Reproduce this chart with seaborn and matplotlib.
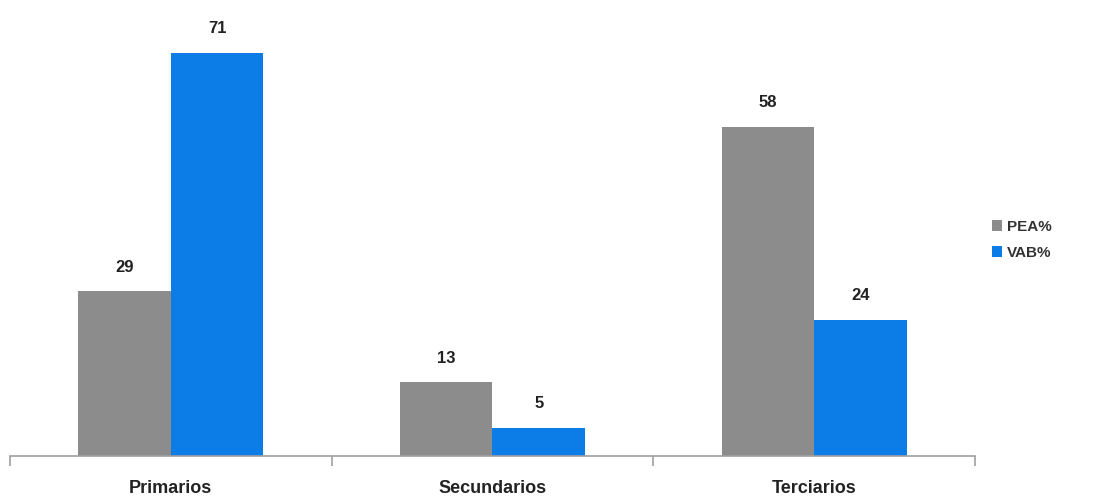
import matplotlib
matplotlib.use("Agg")
import matplotlib.pyplot as plt
import seaborn as sns
import pandas as pd

categories = ["Primarios", "Secundarios", "Terciarios"]
pea = [29, 13, 58]
vab = [71, 5, 24]
series = ["PEA%", "VAB%"]
colors = ["#8c8c8c", "#0c7ce6"]

df = pd.DataFrame({
    "cat": categories * 2,
    "serie": [series[0]] * 3 + [series[1]] * 3,
    "val": pea + vab,
})

sns.set_theme(style="white")
plt.rcParams["font.family"] = ["Liberation Sans", "DejaVu Sans"]

fig = plt.figure(figsize=(10.98, 4.98), dpi=100)
ax = fig.add_axes([10 / 1098, 42 / 498, 965 / 1098, 456 / 498])
sns.barplot(data=df, x="cat", y="val", hue="serie", palette=colors,
            width=0.575, saturation=1, ax=ax, legend=True, linewidth=0)
ax.set_ylim(0, 80.3)
ax.set_xlim(-0.5, 2.5)
ax.set_xlabel("")
ax.set_ylabel("")
ax.set_yticks([])
for s in ["top", "right", "left"]:
    ax.spines[s].set_visible(False)
ax.spines["bottom"].set_color("#a0a0a0")
ax.spines["bottom"].set_linewidth(1.2)
ax.set_xticks([0, 1, 2])
ax.set_xticklabels(categories, fontsize=13, fontweight="bold", color="#222222")
ax.tick_params(axis="x", which="major", length=0, pad=17)
ax.set_xticks([-0.5, 0.5, 1.5, 2.5], minor=True)
ax.tick_params(axis="x", which="minor", length=7, color="#a0a0a0", width=1.2, direction="out", bottom=True)

for c in ax.containers:
    ax.bar_label(c, padding=12, fontsize=12, fontweight="bold", color="#222222")

leg = ax.legend(loc="center left", bbox_to_anchor=(978 / 1098, 258 / 498),
                bbox_transform=fig.transFigure, frameon=False,
                handlelength=0.7, handleheight=0.7, handletextpad=0.3, labelspacing=0.8,
                prop={"weight": "bold", "size": 11})
for t in leg.get_texts():
    t.set_color("#333333")

fig.savefig("out.png", dpi=100)
